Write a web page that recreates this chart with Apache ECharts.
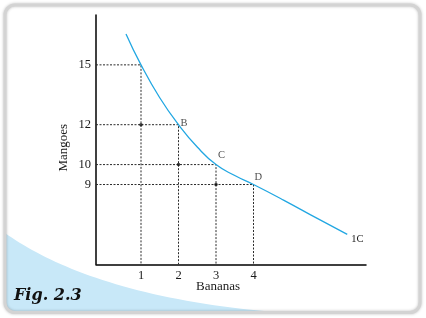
<!DOCTYPE html>
<html><head><meta charset="utf-8">
<script src="https://cdn.jsdelivr.net/npm/echarts@6/dist/echarts.min.js"></script>
<style>html,body{margin:0;padding:0;background:#fff}#c{width:426px;height:318px}</style>
</head><body><div id="c"></div>
<script>
// ---- data ----
const bananas = [1, 2, 3, 4];
const mangoes = [15, 12, 10, 9];
const pointLabels = ['', 'B', 'C', 'D'];
const xTickValues = [1, 2, 3, 4];
const yTickValues = [9, 10, 12, 15];
const curveX = [0.6, 1, 1.5, 2, 2.5, 3, 3.5, 4, 4.8, 5.7, 6.5];
const curveY = [16.55, 15, 13.35, 12, 10.88, 10, 9.45, 9, 8.22, 7.3, 6.5];
const curveName = '1C';
const xAxisName = 'Bananas';
const yAxisName = 'Mangoes';
const figTitle = 'Fig. 2.3';
const X_MIN = -0.2, X_MAX = 7.0, Y_MIN = 5, Y_MAX = 17.5;

// ---- chart ----
const chart = echarts.init(document.getElementById('c'), null, {renderer: 'canvas'});
const serif = '"Liberation Serif", "DejaVu Serif", serif';
const textColor = '#1a1a1a';
const dashStyle = {color: '#2a2a2a', width: 1, type: [2, 1.5]};

const series = [];
bananas.forEach((b, i) => {
  series.push({
    type: 'line', silent: true, symbol: 'none', z: 3,
    data: [[X_MIN, mangoes[i]], [b, mangoes[i]], [b, Y_MIN]],
    lineStyle: dashStyle
  });
});
const crossDots = bananas.slice(0, 3).map((b, i) => [b, mangoes[i + 1]]);
series.push({
  type: 'scatter', data: crossDots, symbolSize: 3.5, z: 4,
  itemStyle: {color: '#111'}
});
series.push({
  type: 'line', smooth: 0.5, symbol: 'none', z: 5,
  data: curveX.map((x, i) => [x, curveY[i]]),
  lineStyle: {color: '#22a7e2', width: 1.3},
  endLabel: {show: true, formatter: curveName, distance: 4, offset: [0, 5],
    fontFamily: serif, fontSize: 10.5, color: textColor}
});
const labelOffsets = [[0, 0], [0, -1], [0, -9], [-1, -7]];
series.push({
  type: 'scatter', symbolSize: 0, z: 6,
  data: bananas.map((b, i) => ({
    value: [b, mangoes[i]],
    label: {show: pointLabels[i] !== '', formatter: pointLabels[i],
      position: 'right', distance: 2, offset: labelOffsets[i]}
  })),
  label: {fontFamily: serif, fontSize: 10.5, color: textColor}
});

// decorative swoosh outline (bezier sampled)
function bez(p0, p1, p2, p3, n) {
  const pts = [];
  for (let k = 0; k <= n; k++) {
    const t = k / n, u = 1 - t;
    pts.push([
      u*u*u*p0[0] + 3*u*u*t*p1[0] + 3*u*t*t*p2[0] + t*t*t*p3[0],
      u*u*u*p0[1] + 3*u*u*t*p1[1] + 3*u*t*t*p2[1] + t*t*t*p3[1]
    ]);
  }
  return pts;
}
const swoosh = bez([5, 233], [50, 265], [130, 300], [275, 312], 40)
  .concat([[15, 312], [9, 311], [6, 307], [5, 302]]);

chart.setOption({
  animation: false,
  backgroundColor: '#fff',
  grid: {left: 96, top: 15, width: 270, height: 249.3},
  xAxis: {
    type: 'value', min: X_MIN, max: X_MAX,
    name: xAxisName, nameLocation: 'middle', nameGap: 16, nameMoveOverlap: false,
    nameTextStyle: {fontFamily: serif, fontSize: 13, color: textColor, padding: [0, 26, 0, 0]},
    axisLine: {show: true, onZero: false, lineStyle: {color: '#000', width: 1.5}},
    axisTick: {show: false},
    splitLine: {show: false},
    axisLabel: {customValues: xTickValues, margin: 5,
      fontFamily: serif, fontSize: 12.5, color: textColor}
  },
  yAxis: {
    type: 'value', min: Y_MIN, max: Y_MAX,
    name: yAxisName, nameLocation: 'middle', nameGap: 26, nameRotate: 90, nameMoveOverlap: false,
    nameTextStyle: {fontFamily: serif, fontSize: 13, color: textColor, padding: [0, 16, 0, 0]},
    axisLine: {show: true, onZero: false, lineStyle: {color: '#000', width: 1.5}},
    axisTick: {show: false},
    splitLine: {show: false},
    axisLabel: {customValues: yTickValues, margin: 5,
      fontFamily: serif, fontSize: 12.5, color: textColor}
  },
  graphic: [
    {type: 'polygon', z: -10, silent: true,
      shape: {points: swoosh},
      style: {fill: '#c8e8f8'}},
    {type: 'rect', z: -5, silent: true,
      shape: {x: 5, y: 5, width: 415, height: 307.5, r: 10},
      style: {fill: null, stroke: '#d3d3d3', lineWidth: 3,
        shadowBlur: 3, shadowColor: 'rgba(0,0,0,0.25)'}},
    {type: 'text', z: 10, left: 14, top: 288,
      style: {text: figTitle, font: 'italic bold 16px "DejaVu Serif", serif', fill: '#111'}}
  ],
  series: series
});
</script></body></html>
